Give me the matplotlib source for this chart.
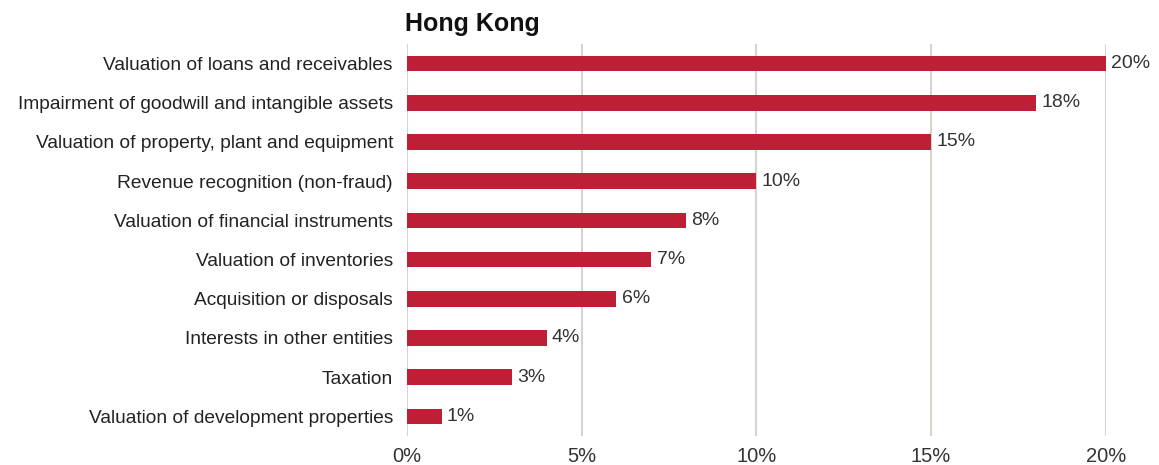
import matplotlib.pyplot as plt

categories = [
    "Valuation of loans and receivables",
    "Impairment of goodwill and intangible assets",
    "Valuation of property, plant and equipment",
    "Revenue recognition (non-fraud)",
    "Valuation of financial instruments",
    "Valuation of inventories",
    "Acquisition or disposals",
    "Interests in other entities",
    "Taxation",
    "Valuation of development properties",
]
values = [20, 18, 15, 10, 8, 7, 6, 4, 3, 1]
x_ticks = [0, 5, 10, 15, 20]
x_tick_labels = ["0%", "5%", "10%", "15%", "20%"]

plt.rcParams["font.family"] = ["Liberation Sans", "DejaVu Sans"]

fig = plt.figure(figsize=(11.59, 4.65), dpi=100)
ax = fig.add_axes([0.351, 0.0624, 0.603, 0.843])

y = list(range(len(categories)))
ax.barh(y, values, height=0.4, color="#be1e36", zorder=3)
for yi, v in zip(y, values):
    ax.text(v + 0.15, yi, f"{v}%", va="center", ha="left", fontsize=14, color="#333333")

ax.set_xlim(0, 20)
ax.set_ylim(len(categories) - 0.5, -0.5)
ax.set_yticks(y)
ax.set_yticklabels(categories, fontsize=13.8, color="#222222")
ax.set_xticks(x_ticks)
ax.set_xticklabels(x_tick_labels, fontsize=14.5, color="#333333")
ax.tick_params(axis="both", length=0)
ax.tick_params(axis="x", pad=8)
ax.tick_params(axis="y", pad=10)
ax.grid(axis="x", color="#d9d2ce", linewidth=1.5, zorder=0)
for s in ax.spines.values():
    s.set_visible(False)

ax.text(-0.003, 1.02, "Hong Kong", transform=ax.transAxes, fontsize=18,
        fontweight="bold", ha="left", va="bottom", color="#111111")

fig.savefig("out.png", dpi=100)
